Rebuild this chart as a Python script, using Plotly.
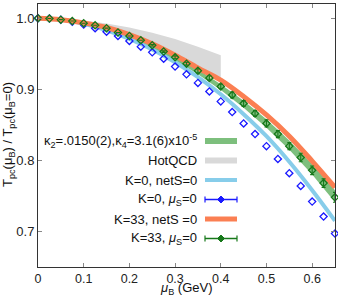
import plotly.graph_objects as go

# ---------------- data ----------------
mu_pts = [0.0, 0.025, 0.05, 0.075, 0.1, 0.125, 0.15, 0.175, 0.2, 0.225, 0.25, 0.275,
          0.3, 0.325, 0.35, 0.375, 0.4, 0.425, 0.45, 0.475, 0.5, 0.525, 0.55, 0.575,
          0.6, 0.625, 0.65]
k33_muS0 = [1.0, 0.9995, 0.998, 0.996, 0.993, 0.990, 0.986, 0.980, 0.975, 0.969, 0.962, 0.953,
            0.945, 0.936, 0.926, 0.916, 0.904, 0.892, 0.880, 0.866, 0.852, 0.837, 0.820, 0.804,
            0.786, 0.768, 0.748]
k33_muS0_err = [0, 0, 0, 0, 0, 0, 0, 0, 0, 0, 0.001, 0.001,
                0.002, 0.002, 0.003, 0.003, 0.003, 0.004, 0.004, 0.004, 0.005, 0.005, 0.005, 0.006,
                0.006, 0.006, 0.007]
k0_muS0 = [1.0, 0.9995, 0.998, 0.995, 0.991, 0.986, 0.981, 0.975, 0.968, 0.960, 0.952, 0.943,
           0.932, 0.921, 0.909, 0.897, 0.883, 0.868, 0.852, 0.837, 0.820, 0.802, 0.782, 0.764,
           0.742, 0.721, 0.697]

mu_line = [0.0, 0.05, 0.1, 0.15, 0.2, 0.25, 0.3, 0.35, 0.4, 0.45, 0.5, 0.55, 0.6, 0.65]
k33_netS0 = [1.0, 0.998, 0.9935, 0.987, 0.977, 0.964, 0.948, 0.930, 0.913, 0.890, 0.864, 0.834, 0.799, 0.762]
k0_netS0 = [1.0, 0.998, 0.992, 0.983, 0.971, 0.956, 0.938, 0.917, 0.893, 0.865, 0.834, 0.798, 0.758, 0.715]
fit_upper = [1.0, 0.998, 0.993, 0.985, 0.975, 0.962, 0.946, 0.928, 0.907, 0.884, 0.858, 0.828, 0.795, 0.758]
fit_lower = [1.0, 0.998, 0.992, 0.983, 0.972, 0.958, 0.941, 0.921, 0.899, 0.874, 0.846, 0.815, 0.780, 0.741]

mu_hot = [0.0, 0.05, 0.1, 0.15, 0.2, 0.25, 0.3, 0.35, 0.4]
hot_upper = [1.0, 0.9992, 0.9967, 0.9926, 0.987, 0.9796, 0.9706, 0.960, 0.948]
hot_lower = [1.0, 0.998, 0.993, 0.985, 0.975, 0.962, 0.947, 0.930, 0.912]

x_ticks = [0, 0.1, 0.2, 0.3, 0.4, 0.5, 0.6]
x_ticktext = ["0", "0.1", "0.2", "0.3", "0.4", "0.5", "0.6"]
y_ticks = [0.7, 0.8, 0.9, 1.0]
y_ticktext = ["0.7", "0.8", "0.9", "1.0"]

x_title = "<i>μ</i><sub>B</sub> (GeV)"
y_title = "T<sub>pc</sub>(μ<sub>B</sub>) / T<sub>pc</sub>(μ<sub>B</sub>=0)"

legend_labels = [
    "κ<sub>2</sub>=.0150(2),κ<sub>4</sub>=3.1(6)x10<sup>-5</sup>",
    "HotQCD",
    "K=0, netS=0",
    "K=0, <i>μ</i><sub>S</sub>=0",
    "K=33, netS =0",
    "K=33, <i>μ</i><sub>S</sub>=0",
]

# ---------------- styles ----------------
C_GREENBAND = "#7dbf7d"
C_GRAY = "#d9d9d9"
C_SKY = "#87cdea"
C_BLUE = "#1a1aff"
C_ORANGE = "#fb7f52"
C_DGREEN = "#17781a"
FONT = "Liberation Sans, Arial, sans-serif"
FS = 13

W, H = 338, 296
ML, MR, MT, MB = 38, 3, 4, 29

fig = go.Figure()

# green fit band
fig.add_trace(go.Scatter(x=mu_line, y=fit_lower, mode="lines", line=dict(width=0),
                         showlegend=False, hoverinfo="skip"))
fig.add_trace(go.Scatter(x=mu_line, y=fit_upper, mode="lines", line=dict(width=0),
                         fill="tonexty", fillcolor=C_GREENBAND, showlegend=False))
# HotQCD band
fig.add_trace(go.Scatter(x=mu_hot, y=hot_lower, mode="lines", line=dict(width=0),
                         showlegend=False, hoverinfo="skip"))
fig.add_trace(go.Scatter(x=mu_hot, y=hot_upper, mode="lines", line=dict(width=0),
                         fill="tonexty", fillcolor=C_GRAY, showlegend=False))
# K=0 netS=0
fig.add_trace(go.Scatter(x=mu_line, y=k0_netS0, mode="lines", line=dict(color=C_SKY, width=4, shape="spline"),
                         showlegend=False))
# K=0 muS=0
fig.add_trace(go.Scatter(x=mu_pts, y=k0_muS0, mode="markers",
                         marker=dict(symbol="diamond-open", size=5.5, color=C_BLUE, line=dict(width=1.3, color=C_BLUE)),
                         cliponaxis=False, showlegend=False))
# K=33 netS=0
fig.add_trace(go.Scatter(x=mu_line, y=k33_netS0, mode="lines", line=dict(color=C_ORANGE, width=5, shape="spline"),
                         showlegend=False))
# K=33 muS=0
fig.add_trace(go.Scatter(x=mu_pts, y=k33_muS0, mode="markers",
                         error_y=dict(type="data", array=k33_muS0_err, color=C_DGREEN, thickness=1.1, width=2),
                         marker=dict(symbol="diamond-open", size=5.5, color=C_DGREEN, line=dict(width=1.3, color=C_DGREEN)),
                         cliponaxis=False, showlegend=False))

# ---------------- manual legend (symbols right of text) ----------------
PW = W - ML - MR
PH = H - MT - MB


def px(xpix):
    return (xpix - ML) / PW


def py(ypix):
    return (H - MB - ypix) / PH


leg_rows = [141, 160.5, 180, 199.5, 219, 238.5]
leg_text_right = 199
leg_sym_x0, leg_sym_x1 = 205, 237
leg_styles = [
    dict(color=C_GREENBAND, width=6, marker=False),
    dict(color=C_GRAY, width=6, marker=False),
    dict(color=C_SKY, width=4, marker=False),
    dict(color=C_BLUE, width=1.5, marker=True),
    dict(color=C_ORANGE, width=5, marker=False),
    dict(color=C_DGREEN, width=1.5, marker=True),
]

shapes = []
annotations = []
for label, yrow, st in zip(legend_labels, leg_rows, leg_styles):
    annotations.append(dict(xref="paper", yref="paper", x=px(leg_text_right), y=py(yrow),
                            text=label, showarrow=False, xanchor="right", yanchor="middle",
                            font=dict(family=FONT, size=FS, color="#111")))
    shapes.append(dict(type="line", xref="paper", yref="paper", x0=px(leg_sym_x0), x1=px(leg_sym_x1),
                       y0=py(yrow), y1=py(yrow), line=dict(color=st["color"], width=st["width"])))
    if st["marker"]:
        for xe in (leg_sym_x0, leg_sym_x1):
            shapes.append(dict(type="line", xref="paper", yref="paper", x0=px(xe), x1=px(xe),
                               y0=py(yrow - 3), y1=py(yrow + 3), line=dict(color=st["color"], width=1.2)))
        xc = (leg_sym_x0 + leg_sym_x1) / 2
        d = 3.5
        path = (f"M {px(xc - d)},{py(yrow)} L {px(xc)},{py(yrow - d)} "
                f"L {px(xc + d)},{py(yrow)} L {px(xc)},{py(yrow + d)} Z")
        shapes.append(dict(type="path", xref="paper", yref="paper", path=path,
                           fillcolor=st["color"], line=dict(color=st["color"], width=1)))

# axis titles as annotations (fixed positions)
annotations.append(dict(xref="paper", yref="paper", x=px(186), y=py(288), text=x_title,
                        showarrow=False, xanchor="center", yanchor="middle", borderpad=0,
                        font=dict(family=FONT, size=FS, color="#111")))
annotations.append(dict(xref="paper", yref="paper", x=px(8), y=py(135), text=y_title,
                        showarrow=False, xanchor="center", yanchor="middle", textangle=-90,
                        font=dict(family=FONT, size=FS, color="#111")))

axis_common = dict(showline=True, linecolor="#333", linewidth=1, mirror="ticks",
                   ticks="inside", ticklen=4, tickcolor="#888", tickwidth=1,
                   showgrid=False, zeroline=False, automargin=False)

fig.update_layout(
    width=W, height=H,
    margin=dict(l=ML, r=MR, t=MT, b=MB),
    paper_bgcolor="white", plot_bgcolor="white",
    showlegend=False,
    xaxis=dict(range=[0, 0.65], tickvals=x_ticks, ticktext=x_ticktext, ticklabelstandoff=0,
               tickfont=dict(family=FONT, size=12.5, color="#222"), **axis_common),
    yaxis=dict(range=[0.65, 1.02], tickvals=y_ticks, ticktext=y_ticktext,
               tickfont=dict(family=FONT, size=FS, color="#222"), **axis_common),
    shapes=shapes,
    annotations=annotations,
)

fig.write_html("out.html", config={"displayModeBar": False, "staticPlot": True})

# remove default page margins so the figure sits at the window's top-left corner
with open("out.html", "r", encoding="utf-8") as f:
    html = f.read()
html = html.replace("<head>", "<head><style>html,body{margin:0;padding:0;overflow:hidden;}</style>", 1)
with open("out.html", "w", encoding="utf-8") as f:
    f.write(html)
